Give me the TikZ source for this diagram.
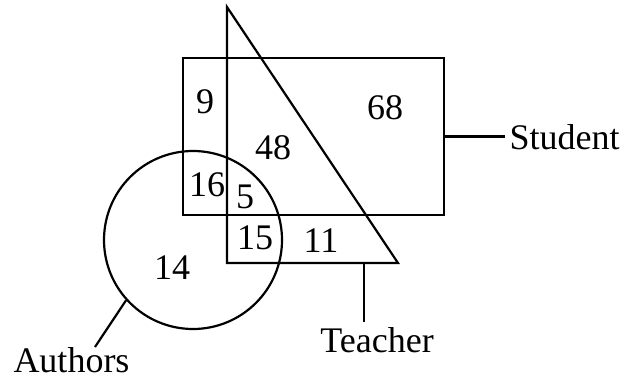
\documentclass[tikz,border=0pt]{standalone}
\usepackage{fontspec}
\setmainfont{Liberation Serif}
\usetikzlibrary{positioning}

\begin{document}
\begin{tikzpicture}[
  x=1pt, y=-1pt,
  setline/.style={draw, line width=2.2pt},
  setbox/.style={setline, rectangle, inner sep=0pt,
               minimum width=261pt, minimum height=157pt},
  setring/.style={setline, circle, inner sep=0pt, minimum size=178pt},
  num/.style={inner sep=0pt, font=\fontsize{36}{40}\selectfont},
  every node/.style={font=\fontsize{36}{40}\selectfont}
]
  \useasboundingbox (0,0) rectangle (628,382);

  % the three sets
  \node[setbox]  (student) at (313.5,136.5) {};
  \node[setring] (authors) at (193,240) {};
  \coordinate (apex)  at (227,7);
  \coordinate (tleft) at (227,263);
  \coordinate (tright) at (398,263);
  \draw[line width=2.2pt, line join=miter] (apex) -- (tleft) -- (tright) -- cycle;

  % region counts
  \node[num] (n9)  at (205,102) {9};
  \node[num] (n68) at (385,108) {68};
  \node[num] (n48) at (273,148) {48};
  \node[num] (n16) at (207,185) {16};
  \node[num] (n5)  at (245,197) {5};
  \node[num] (n15) at (255,238) {15};
  \node[num] (n11) at (321,241) {11};
  \node[num] (n14) at (172,268) {14};

  % labels
  \node[num] (lstudent) at (564.5,137) {Student};
  \node[num] (lteacher) at (377,340) {Teacher};
  \node[num] (lauthors) at (71.5,360) {Authors};

  \coordinate (tfoot) at (364,263);
  \coordinate (tend)  at (364,322);
  \coordinate (aend)  at (95,347);
  \draw[line width=2.2pt] (student.east) -- ++(60,0) coordinate (send);
  \draw[line width=2.2pt] (tfoot) -- (tend);
  \draw[line width=2.2pt] (authors.222.7) -- (aend);
\end{tikzpicture}
\end{document}
